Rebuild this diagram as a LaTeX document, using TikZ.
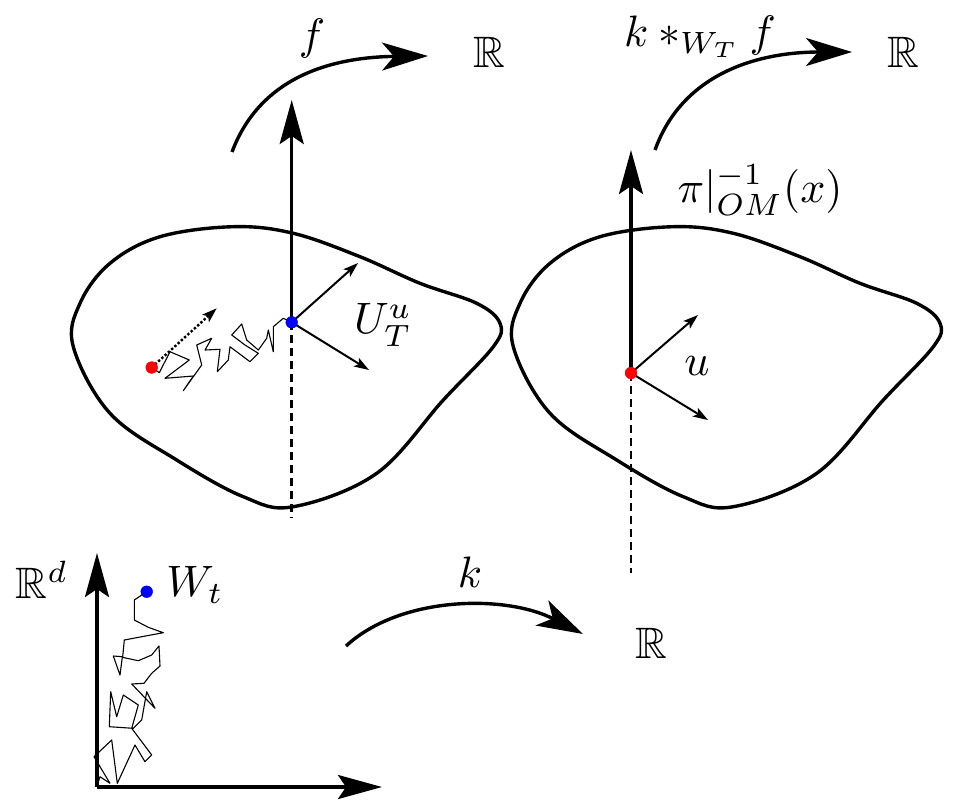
\documentclass[tikz,border=0pt]{standalone}
\usepackage{amssymb}
\usetikzlibrary{arrows.meta}
\begin{document}
\begin{tikzpicture}[x=1pt,y=-1pt,
  lbl/.style={inner sep=0pt,scale=4.4},
  thick line/.style={line width=3.4pt},
  big arrow/.style={line width=3.4pt,-{Stealth[length=46pt,width=28pt,inset=12pt]}},
  axis arrow/.style={line width=3.4pt,-{Stealth[length=44pt,width=24pt,inset=8pt]}},
  vec arrow/.style={line width=2pt,-{Stealth[length=15pt,width=10pt,inset=3.5pt]}},
  fiber dash/.style={line width=2.8pt,dash pattern=on 8pt off 5pt},
  walk/.style={line width=1.1pt,line join=round},
  dot/.style={circle,inner sep=0pt,minimum size=12pt}]
\useasboundingbox (0,0) rectangle (973,804);

% blobs
\foreach \s in {0,440}{
\draw[thick line,xshift=\s] plot[smooth cycle,tension=0.6] coordinates {(233.3,226.7) (293.3,233.3) (360,256.7) (420,283.3) (476.7,303.3) (500,323.3) (493.3,346.7) (443.3,400) (376.7,473.3) (293.3,506.7) (243.3,496.7) (176.7,460) (110,413.3) (73.3,346.7) (80,303.3) (110,263.3) (160,236.7)};
}

% left fiber
\node[dot,fill=blue] (bd) at (291.7,322.3) {};
\coordinate (ltop) at (291.7,100);
\coordinate (lbot) at (291.7,518);
\draw[axis arrow] (bd.center) -- (ltop);
\draw[fiber dash] (bd.center) -- (lbot);
\coordinate (lv1) at (358,263);
\coordinate (lv2) at (369,370);
\draw[vec arrow] (bd.center) -- (lv1);
\draw[vec arrow] (bd.center) -- (lv2);
\node[lbl] (UT) at (383,325) {$U_T^u$};

% random walk on manifold
\node[dot,fill=red] (rd) at (151.7,367.5) {};
\coordinate (dt) at (216.7,308.3);
\draw[line width=2.4pt,dotted,-{Stealth[length=15pt,width=10pt,inset=3.5pt]}] (rd.center) -- (dt);
\draw[walk] (rd.center) -- (159.3,372.7) -- (170,351.7) -- (189.3,360) -- (165,378.3) -- (193.3,376) -- (183.3,390.7) -- (201.7,365) -- (196.7,345) -- (211.7,338.3) -- (205,350) -- (220,349.3) -- (217.3,371.7) -- (228.3,360) -- (230,346.7) -- (250,361.7) -- (258.3,353.3) -- (245,345) -- (231.7,335) -- (241.7,324) -- (246.7,340) -- (258.3,350) -- (266.7,338.3) -- (268.3,330) -- (273.3,351.7) -- (273.3,326.7) -- (283.3,318.3) -- (bd.center);
\node[dot,fill=red] at (151.7,367.5) {};
\node[dot,fill=blue] at (291.7,322.3) {};

% right fiber
\node[dot,fill=red] (rd2) at (631,373) {};
\coordinate (rtop) at (631,150);
\coordinate (rbot) at (631,573);
\draw[axis arrow] (rd2.center) -- (rtop);
\draw[fiber dash] (rd2.center) -- (rbot);
\coordinate (rv1) at (698,315);
\coordinate (rv2) at (708,420);
\draw[vec arrow] (rd2.center) -- (rv1);
\draw[vec arrow] (rd2.center) -- (rv2);
\node[dot,fill=red] at (631,373) {};
\node[lbl] (u) at (697,366) {$u$};
\node[lbl] (pi) at (760,190) {$\pi|_{OM}^{-1}(x)$};

% top curved arrows
\coordinate (f1) at (232,152);
\coordinate (f2) at (428,56);
\draw[big arrow] (f1) .. controls (262,72) and (340,57) .. (f2);
\node[lbl] (fl) at (312,38) {$f$};
\node[lbl] (R1) at (489,52) {$\mathbb{R}$};

\coordinate (g1) at (655,150);
\coordinate (g2) at (852,52);
\draw[big arrow] (g1) .. controls (683,72) and (760,52) .. (g2);
\node[lbl] (gl) at (700,37) {$k *_{W_T} f$};
\node[lbl] (R2) at (903,52) {$\mathbb{R}$};

% bottom arrow
\coordinate (k1) at (346,646);
\coordinate (k2) at (583,634);
\draw[big arrow] (k1) .. controls (400,596) and (505,594) .. (k2);
\node[lbl] (kl) at (470,572) {$k$};
\node[lbl] (R3) at (651,643) {$\mathbb{R}$};

% bottom axes
\coordinate (O) at (97,787);
\coordinate (Ay) at (97,553);
\coordinate (Ax) at (382,787);
\draw[axis arrow] (O) -- (Ay);
\draw[axis arrow] (O) -- (Ax);
\node[lbl] (Rd) at (42,580) {$\mathbb{R}^d$};
\node[dot,fill=blue] (wd) at (146.7,591.7) {};
\node[lbl] (Wt) at (195,585) {$W_t$};
\draw[walk] (wd.center) -- (134.3,600) -- (134.3,620) -- (148.3,627.3) -- (163.3,632.7) -- (141.7,636.7) -- (124.3,640) -- (122.7,656.7) -- (113.3,656) -- (120,675) -- (122.3,657.3) -- (138.3,660.7) -- (151.7,655) -- (159,646) -- (160,666) -- (151.7,673.3) -- (144,683.3) -- (131.7,684) -- (155,708.3) -- (146.7,691.7) -- (141.7,720) -- (133.3,728.3) -- (109.3,726.7) -- (110.7,691.7) -- (116.7,716.7) -- (123.3,695) -- (138.3,705) -- (131.7,728.3) -- (151.7,755) -- (145,761.7) -- (135,745) -- (117.3,783.3) -- (111.7,740) -- (94,756.7) -- (110,783.3) -- (100,776.7) -- (97,786);
\node[dot,fill=blue] at (146.7,591.7) {};
\end{tikzpicture}
\end{document}
